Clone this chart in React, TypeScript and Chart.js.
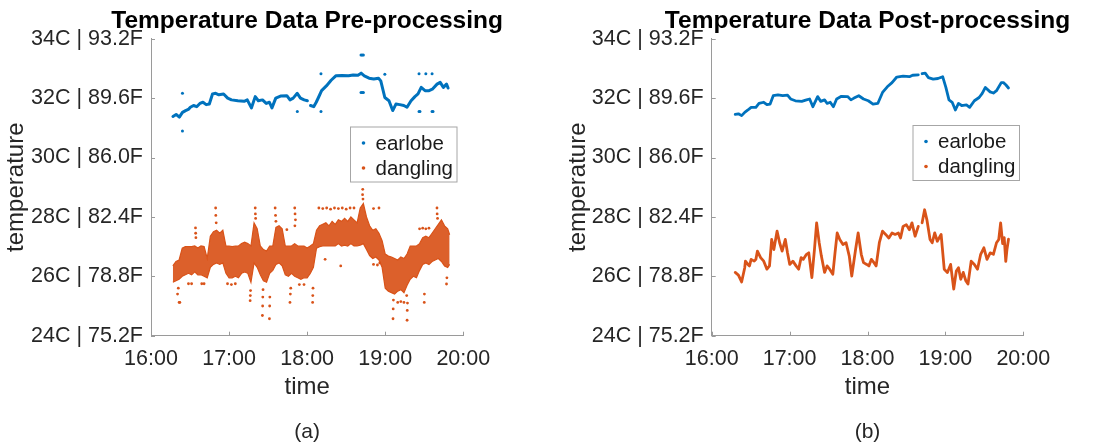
import React, { useEffect, useRef } from "react";
import { Chart, registerables } from "chart.js";

Chart.register(...registerables);

const FONT = "'Liberation Sans', Arial, Helvetica, sans-serif";
const BLUE = "#0072BD";
const ORANGE = "#D95319";
const TEXT = "#262626";
const AXIS = "#9a9a9a";

// ---------- axis ticks ----------
const timeTicks = [16, 17, 18, 19, 20];
const timeTickLabels = ["16:00", "17:00", "18:00", "19:00", "20:00"];
const tempTicks = [24, 26, 28, 30, 32, 34];
const tempTickLabels = ["24C | 75.2F", "26C | 78.8F", "28C | 82.4F", "30C | 86.0F", "32C | 89.6F", "34C | 93.2F"];
const seriesNames = ["earlobe", "dangling"];
const panelTitles = ["Temperature Data Pre-processing", "Temperature Data Post-processing"];
const panelCaptions = ["(a)", "(b)"];

// ---------- (a) pre-processing: earlobe (dense raw trace) ----------
const rawEarTime = [16.281, 16.322, 16.363, 16.403, 16.443, 16.484, 16.504, 16.545, 16.585, 16.626, 16.666, 16.707, 16.747, 16.788, 16.828, 16.869, 16.93, 16.982, 17.031, 17.112, 17.193, 17.233, 17.286, 17.335, 17.375, 17.428, 17.476, 17.517, 17.549, 17.598, 17.659, 17.74, 17.78, 17.821, 17.873, 17.914, 17.962, 18.003, 18.023, 18.043, 18.084, 18.116, 18.145, 18.185, 18.246, 18.307, 18.367, 18.448, 18.53, 18.59, 18.651, 18.691, 18.732, 18.793, 18.853, 18.914, 18.943, 18.995, 19.048, 19.096, 19.137, 19.186, 19.238, 19.279, 19.331, 19.38, 19.42, 19.461, 19.51, 19.562, 19.603, 19.664, 19.704, 19.745, 19.785, 19.805];
const rawEarTemp = [31.38, 31.45, 31.36, 31.52, 31.58, 31.63, 31.69, 31.75, 31.71, 31.82, 31.86, 31.78, 31.80, 32.14, 32.16, 32.11, 32.14, 32.00, 31.94, 31.91, 31.89, 31.94, 31.67, 32.05, 31.91, 31.94, 31.82, 31.86, 31.67, 32.00, 32.07, 32.08, 31.94, 32.00, 32.16, 32.00, 31.94, 31.91, null, 31.75, 31.71, 31.86, 32.02, 32.25, 32.41, 32.60, 32.75, 32.76, 32.75, 32.78, 32.77, 32.84, 32.75, 32.67, 32.64, 32.67, 32.58, 32.02, 31.91, 31.58, 31.80, 31.78, 31.75, 31.69, 31.91, 32.05, 32.14, 32.36, 32.25, 32.25, 32.30, 32.47, 32.53, 32.36, 32.47, 32.34];
// isolated earlobe readings
const earOutTime = [16.403, 16.403, 17.874, 18.177, 18.177, 18.69, 18.705, 18.72, 18.69, 18.705, 18.72, 18.995, 19.433, 19.52, 19.60, 19.433, 19.445, 19.60, 19.612];
const earOutTemp = [32.16, 30.89, 31.55, 32.82, 31.55, 33.45, 33.45, 33.45, 32.19, 32.19, 32.19, 32.80, 32.82, 32.82, 32.82, 31.55, 31.55, 31.55, 31.55];

// ---------- (a) pre-processing: dangling (dense noisy cloud) ----------
const bandTime = [16.28, 16.32, 16.36, 16.40, 16.44, 16.48, 16.52, 16.56, 16.60, 16.64, 16.68, 16.72, 16.76, 16.80, 16.84, 16.88, 16.92, 16.96, 17.00, 17.04, 17.08, 17.12, 17.16, 17.20, 17.24, 17.28, 17.32, 17.36, 17.40, 17.44, 17.48, 17.52, 17.56, 17.60, 17.64, 17.68, 17.72, 17.76, 17.80, 17.84, 17.88, 17.92, 17.96, 18.00, 18.04, 18.08, 18.12, 18.16, 18.20, 18.24, 18.28, 18.32, 18.36, 18.40, 18.44, 18.48, 18.52, 18.56, 18.60, 18.64, 18.68, 18.72, 18.76, 18.80, 18.84, 18.88, 18.92, 18.96, 19.00, 19.04, 19.08, 19.12, 19.16, 19.20, 19.24, 19.28, 19.32, 19.36, 19.40, 19.44, 19.48, 19.52, 19.56, 19.60, 19.64, 19.68, 19.72, 19.76, 19.80, 19.825];
const bandHigh = [26.35, 26.50, 26.55, 26.95, 27.00, 27.00, 27.00, 27.02, 26.95, 27.02, 27.00, 26.60, 27.35, 27.50, 27.55, 27.45, 27.55, 27.02, 27.02, 27.00, 27.02, 27.02, 27.10, 27.15, 27.10, 27.02, 27.80, 27.60, 27.02, 26.90, 26.85, 27.02, 27.02, 27.65, 27.70, 27.60, 27.02, 27.02, 27.02, 27.10, 27.02, 27.02, 27.02, 26.95, 27.02, 27.10, 27.55, 27.70, 27.75, 27.80, 27.70, 27.85, 27.75, 27.90, 27.85, 27.95, 27.85, 28.00, 27.90, 27.80, 28.30, 28.45, 28.00, 27.70, 27.55, 27.60, 27.45, 27.20, 26.75, 26.68, 26.65, 26.60, 26.55, 26.65, 26.60, 26.75, 27.02, 27.02, 27.02, 27.10, 27.30, 27.35, 27.30, 27.45, 27.60, 27.75, 27.90, 27.70, 27.60, 27.40];
const bandLow = [25.80, 25.85, 25.90, 26.00, 26.05, 26.10, 26.05, 26.15, 26.05, 26.05, 26.00, 25.95, 26.30, 26.40, 26.45, 26.40, 26.45, 26.10, 25.95, 25.95, 26.00, 25.95, 26.10, 26.15, 26.10, 25.80, 26.45, 26.30, 26.05, 25.85, 25.80, 26.10, 26.20, 26.40, 26.45, 26.35, 26.05, 26.00, 26.10, 26.00, 25.95, 25.90, 25.95, 25.95, 26.10, 26.30, 26.95, 27.00, 27.02, 27.02, 27.02, 27.02, 27.02, 27.10, 27.02, 27.05, 27.02, 27.10, 27.02, 27.02, 27.05, 27.10, 26.90, 26.70, 26.60, 26.65, 26.55, 26.30, 25.60, 25.50, 25.45, 25.40, 25.50, 25.55, 25.45, 25.70, 25.90, 26.00, 25.95, 26.20, 26.40, 26.45, 26.40, 26.50, 26.55, 26.60, 26.50, 26.35, 26.30, 26.40];
// sparse dangling readings outside the dense core
const dangOutTime = [16.57, 16.572, 16.575, 16.828, 16.83, 16.835, 17.335, 17.337, 17.34, 17.59, 17.595, 17.60, 17.74, 17.841, 17.845, 17.85, 17.843, 18.15, 18.20, 18.25, 18.30, 18.35, 18.40, 18.45, 18.50, 18.55, 18.60, 18.712, 18.71, 18.715, 18.85, 18.92, 19.663, 19.665, 19.67, 19.44, 19.48, 19.52, 19.56, 16.34, 16.36, 16.37, 16.35, 16.48, 16.52, 16.65, 16.68, 16.98, 17.03, 17.08, 17.27, 17.272, 17.275, 17.427, 17.43, 17.432, 17.435, 17.517, 17.52, 17.522, 17.78, 17.785, 17.79, 18.07, 18.072, 18.075, 17.90, 17.96, 18.43, 18.23, 18.85, 18.90, 18.93, 19.10, 19.102, 19.105, 19.28, 19.282, 19.285, 19.275, 19.16, 19.20, 19.24, 19.50, 19.502, 19.785, 19.79];
const dangOutTemp = [27.63, 27.45, 27.30, 28.30, 28.05, 27.80, 28.30, 28.10, 27.95, 28.30, 28.05, 27.85, 27.57, 28.30, 28.10, 27.90, 27.70, 28.30, 28.28, 28.30, 28.26, 28.30, 28.28, 28.30, 28.26, 28.30, 28.30, 28.93, 28.75, 28.60, 28.28, 28.30, 28.30, 28.10, 27.95, 27.60, 27.62, 27.60, 27.62, 25.40, 25.12, 25.12, 25.60, 25.75, 25.75, 25.75, 25.75, 25.75, 25.72, 25.75, 25.18, 25.35, 25.52, 24.68, 25.00, 25.30, 25.55, 24.57, 25.00, 25.30, 25.12, 25.40, 25.60, 25.12, 25.35, 25.60, 25.72, 25.72, 26.35, 26.57, 26.40, 26.38, 26.45, 24.57, 24.90, 25.20, 24.52, 24.85, 25.10, 25.35, 25.12, 25.15, 25.12, 25.12, 25.40, 25.74, 25.95];

// ---------- (b) post-processing ----------
const smoothEarTime = [16.302, 16.343, 16.384, 16.424, 16.465, 16.506, 16.567, 16.607, 16.668, 16.709, 16.75, 16.79, 16.851, 16.912, 16.973, 17.013, 17.074, 17.156, 17.217, 17.257, 17.299, 17.36, 17.40, 17.449, 17.482, 17.522, 17.562, 17.604, 17.665, 17.745, 17.787, 17.827, 17.888, 17.949, 18.01, 18.071, 18.132, 18.193, 18.254, 18.315, 18.376, 18.457, 18.538, 18.579, 18.652, 18.676, 18.701, 18.741, 18.782, 18.843, 18.904, 18.965, 19.006, 19.046, 19.087, 19.128, 19.168, 19.209, 19.27, 19.311, 19.372, 19.433, 19.473, 19.513, 19.574, 19.616, 19.656, 19.717, 19.745, 19.775, 19.81];
const smoothEarTemp = [31.45, 31.47, 31.41, 31.52, 31.60, 31.69, 31.69, 31.82, 31.86, 31.78, 31.80, 32.08, 32.11, 32.08, 32.10, 31.97, 31.91, 31.89, 31.94, 31.97, 31.71, 32.05, 31.89, 31.94, 31.82, 31.86, 31.71, 31.97, 32.06, 32.05, 31.94, 32.00, 32.08, 31.97, 31.91, 31.80, 31.82, 32.19, 32.38, 32.52, 32.71, 32.74, 32.72, 32.77, 32.78, null, 32.82, 32.84, 32.69, 32.64, 32.66, 32.72, 32.36, 31.94, 31.86, 31.60, 31.82, 31.75, 31.77, 31.69, 31.91, 32.02, 32.16, 32.36, 32.21, 32.17, 32.25, 32.52, 32.52, 32.45, 32.34];
const smoothDangTime = [16.302, 16.343, 16.384, 16.424, 16.433, 16.465, 16.485, 16.506, 16.546, 16.567, 16.587, 16.628, 16.668, 16.709, 16.742, 16.770, 16.798, 16.839, 16.872, 16.904, 16.945, 16.973, 17.002, 17.042, 17.083, 17.116, 17.148, 17.176, 17.217, 17.246, 17.286, 17.319, 17.347, 17.38, 17.408, 17.449, 17.481, 17.514, 17.555, 17.583, 17.611, 17.644, 17.685, 17.725, 17.766, 17.798, 17.847, 17.88, 17.92, 17.949, 17.99, 18.018, 18.05, 18.083, 18.111, 18.152, 18.193, 18.233, 18.274, 18.315, 18.355, 18.396, 18.424, 18.457, 18.498, 18.538, 18.571, 18.611, 18.652, 18.676, 18.701, 18.733, 18.762, 18.803, 18.831, 18.863, 18.896, 18.945, 18.985, 19.026, 19.067, 19.107, 19.14, 19.168, 19.197, 19.229, 19.262, 19.29, 19.331, 19.372, 19.412, 19.453, 19.494, 19.534, 19.575, 19.616, 19.656, 19.685, 19.709, 19.735, 19.755, 19.775, 19.79, 19.81];
const smoothDangTemp = [26.13, 26.04, 25.81, 26.29, 26.51, 26.40, 26.35, 26.57, 26.51, 26.57, 26.85, 26.63, 26.51, 26.24, 26.35, 27.24, 26.90, 27.52, 27.13, 26.85, 27.24, 26.79, 26.40, 26.51, 26.35, 26.24, 26.63, 26.57, 26.74, 26.79, 25.96, 26.90, 27.80, 27.13, 26.68, 26.13, 26.35, 26.24, 26.07, 26.79, 27.46, 27.24, 27.07, 27.13, 26.68, 26.01, 26.90, 27.46, 26.74, 26.46, 26.40, 26.35, 26.57, 26.46, 26.35, 27.13, 27.52, 27.41, 27.29, 27.46, 27.41, 27.46, 27.29, 27.68, 27.74, 27.57, 27.80, 27.35, 27.68, null, 27.80, 28.24, 27.91, 27.24, 27.13, 27.46, 27.18, 27.41, 26.24, 26.13, 26.40, 25.57, 26.18, 26.29, 25.90, 26.13, 25.85, 25.74, 26.51, 26.40, 26.24, 26.74, 26.96, 26.57, 26.79, 26.74, 27.13, 27.24, 27.80, 27.10, 27.30, 26.50, 26.90, 27.25];

const pts = (xs: number[], ys: (number | null)[]) => xs.map((x, i) => ({ x, y: ys[i] }));

const decorPlugin = {
  id: "decor",
  afterDraw(chart: any, _args: any, opts: any) {
    const { ctx, chartArea: ca, scales } = chart;
    ctx.save();
    // inward tick marks
    ctx.strokeStyle = AXIS;
    ctx.lineWidth = 1;
    ctx.beginPath();
    scales.x.ticks.forEach((t: any) => {
      const px = Math.round(scales.x.getPixelForValue(t.value)) + 0.5;
      ctx.moveTo(px, ca.bottom);
      ctx.lineTo(px, ca.bottom - 4);
    });
    scales.y.ticks.forEach((t: any) => {
      const py = Math.round(scales.y.getPixelForValue(t.value)) + 0.5;
      ctx.moveTo(ca.left, py);
      ctx.lineTo(ca.left + 4, py);
    });
    ctx.stroke();
    const cx = (ca.left + ca.right) / 2;
    // title
    ctx.fillStyle = "#000";
    ctx.font = `bold 24.5px ${FONT}`;
    ctx.textAlign = "center";
    ctx.textBaseline = "alphabetic";
    ctx.fillText(opts.title, cx, 28);
    // caption
    ctx.fillStyle = TEXT;
    ctx.font = `21px ${FONT}`;
    ctx.fillText(opts.caption, cx, 438);
    // legend
    const L = opts.legend;
    ctx.fillStyle = "#fff";
    ctx.fillRect(L.x, L.y, L.w, L.h);
    ctx.strokeStyle = "#a6a6a6";
    ctx.lineWidth = 1;
    ctx.strokeRect(L.x + 0.5, L.y + 0.5, L.w, L.h);
    const colors = [BLUE, ORANGE];
    const rows = [L.y + 16.5, L.y + 41.5];
    ctx.font = `20.5px ${FONT}`;
    ctx.textAlign = "left";
    ctx.textBaseline = "middle";
    seriesNames.forEach((name, i) => {
      ctx.fillStyle = colors[i];
      ctx.beginPath();
      ctx.arc(L.x + 13.5, rows[i], 1.8, 0, Math.PI * 2);
      ctx.fill();
      ctx.fillStyle = "#1a1a1a";
      ctx.fillText(name, L.x + 25.5, rows[i] + 1);
    });
    ctx.restore();
  },
};

function makeScales(yWidth: number) {
  return {
    x: {
      type: "linear",
      min: 16,
      max: 20,
      afterBuildTicks: (s: any) => {
        s.ticks = timeTicks.map((v) => ({ value: v }));
      },
      afterFit: (s: any) => {
        s.height = 66.2;
      },
      grid: { display: false, drawTicks: false },
      border: { display: true, color: AXIS, width: 1 },
      ticks: {
        color: TEXT,
        font: { family: FONT, size: 21.5 },
        padding: 10,
        maxRotation: 0,
        autoSkip: false,
        callback: (v: number) => timeTickLabels[timeTicks.indexOf(v)] ?? "",
      },
      title: {
        display: true,
        text: "time",
        color: TEXT,
        font: { family: FONT, size: 24 },
        padding: { top: 0, bottom: 0 },
      },
    },
    y: {
      type: "linear",
      min: 24,
      max: 34,
      afterBuildTicks: (s: any) => {
        s.ticks = tempTicks.map((v) => ({ value: v }));
      },
      afterFit: (s: any) => {
        s.width = yWidth;
      },
      grid: { display: false, drawTicks: false },
      border: { display: true, color: AXIS, width: 1 },
      ticks: {
        color: TEXT,
        font: { family: FONT, size: 21.5 },
        padding: 8,
        autoSkip: false,
        callback: (v: number) => tempTickLabels[tempTicks.indexOf(v)] ?? "",
      },
      title: {
        display: true,
        text: "temperature",
        color: TEXT,
        font: { family: FONT, size: 24 },
        padding: { top: 1.6, bottom: 0 },
      },
    },
  };
}

function configA(): any {
  return {
    type: "line",
    data: {
      datasets: [
        {
          label: "dangling-high",
          data: pts(bandTime, bandHigh),
          borderColor: ORANGE,
          backgroundColor: "rgba(217,83,25,0.92)",
          borderWidth: 1.2,
          pointRadius: 0,
          fill: "+1",
        },
        {
          label: "dangling-low",
          data: pts(bandTime, bandLow),
          borderColor: ORANGE,
          borderWidth: 1.2,
          pointRadius: 0,
          fill: false,
        },
        {
          label: "dangling-sparse",
          data: pts(dangOutTime, dangOutTemp),
          showLine: false,
          pointRadius: 1.4,
          pointBorderWidth: 0,
          pointBackgroundColor: ORANGE,
        },
        {
          label: seriesNames[0],
          data: pts(rawEarTime, rawEarTemp),
          borderColor: BLUE,
          borderWidth: 3,
          pointRadius: 0,
          spanGaps: false,
          borderJoinStyle: "round",
          borderCapStyle: "round",
        },
        {
          label: "earlobe-sparse",
          data: pts(earOutTime, earOutTemp),
          showLine: false,
          pointRadius: 1.5,
          pointBorderWidth: 0,
          pointBackgroundColor: BLUE,
        },
      ],
    },
    options: {
      responsive: false,
      animation: false,
      events: [],
      layout: { padding: { left: 0, top: 38.7, right: 639.7, bottom: 45.1 } },
      plugins: {
        legend: { display: false },
        tooltip: { enabled: false },
        decor: {
          title: panelTitles[0],
          caption: panelCaptions[0],
          legend: { x: 350, y: 126.5, w: 106.5, h: 55 },
        },
      },
      scales: makeScales(151),
    },
    plugins: [decorPlugin],
  };
}

function configB(): any {
  return {
    type: "line",
    data: {
      datasets: [
        {
          label: seriesNames[0],
          data: pts(smoothEarTime, smoothEarTemp),
          borderColor: BLUE,
          borderWidth: 2.8,
          pointRadius: 0,
          spanGaps: false,
          borderJoinStyle: "round",
          borderCapStyle: "round",
        },
        {
          label: seriesNames[1],
          data: pts(smoothDangTime, smoothDangTemp),
          borderColor: ORANGE,
          borderWidth: 2.8,
          pointRadius: 0,
          spanGaps: false,
          borderJoinStyle: "round",
          borderCapStyle: "round",
        },
      ],
    },
    options: {
      responsive: false,
      animation: false,
      events: [],
      layout: { padding: { left: 562, top: 38.7, right: 79.7, bottom: 45.1 } },
      plugins: {
        legend: { display: false },
        tooltip: { enabled: false },
        decor: {
          title: panelTitles[1],
          caption: panelCaptions[1],
          legend: { x: 912.5, y: 125, w: 106.5, h: 55 },
        },
      },
      scales: makeScales(149.7),
    },
    plugins: [decorPlugin],
  };
}

export default function App() {
  const refA = useRef<HTMLCanvasElement>(null);
  const refB = useRef<HTMLCanvasElement>(null);
  useEffect(() => {
    const a = new Chart(refA.current as HTMLCanvasElement, configA());
    const b = new Chart(refB.current as HTMLCanvasElement, configB());
    return () => {
      a.destroy();
      b.destroy();
    };
  }, []);
  const cs: React.CSSProperties = { position: "absolute", left: 0, top: 0, width: 1103, height: 447 };
  return (
    <div style={{ position: "absolute", left: 0, top: 0, width: 1103, height: 447, overflow: "hidden", background: "#fff" }}>
      <canvas ref={refA} width={1103} height={447} style={cs} />
      <canvas ref={refB} width={1103} height={447} style={cs} />
    </div>
  );
}
